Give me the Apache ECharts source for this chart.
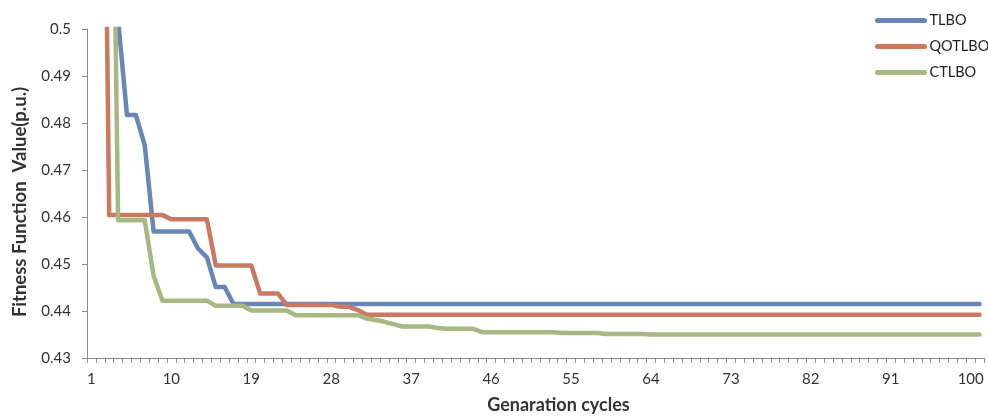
<!DOCTYPE html>
<html>
<head>
<meta charset="utf-8">
<script src="https://cdn.jsdelivr.net/npm/echarts@6/dist/echarts.min.js"></script>
<style>
html,body{margin:0;padding:0;background:#fff;}
#chart{width:988px;height:420px;}
</style>
</head>
<body>
<div id="chart"></div>
<script>
// Generation cycles 1..101
var generations = [];
for (var g = 1; g <= 101; g++) generations.push(String(g));

var seriesNames = ['TLBO', 'QOTLBO', 'CTLBO'];
var xTitle = 'Genaration cycles';
var yTitle = 'Fitness Function  Value(p.u.)';

var tlbo = [
  0.62, 0.58, 0.53, 0.502, 0.4817, 0.4817, 0.4753, 0.4569, 0.4569, 0.4569,
  0.4569, 0.4569, 0.4533, 0.4514, 0.4451, 0.4451, 0.4415, 0.4415, 0.4415, 0.4415,
  0.4415, 0.4415, 0.4415, 0.4415, 0.4415, 0.4415, 0.4415, 0.4415, 0.4415, 0.4415,
  0.4415, 0.4415, 0.4415, 0.4415, 0.4415, 0.4415, 0.4415, 0.4415, 0.4415, 0.4415,
  0.4415, 0.4415, 0.4415, 0.4415, 0.4415, 0.4415, 0.4415, 0.4415, 0.4415, 0.4415,
  0.4415, 0.4415, 0.4415, 0.4415, 0.4415, 0.4415, 0.4415, 0.4415, 0.4415, 0.4415,
  0.4415, 0.4415, 0.4415, 0.4415, 0.4415, 0.4415, 0.4415, 0.4415, 0.4415, 0.4415,
  0.4415, 0.4415, 0.4415, 0.4415, 0.4415, 0.4415, 0.4415, 0.4415, 0.4415, 0.4415,
  0.4415, 0.4415, 0.4415, 0.4415, 0.4415, 0.4415, 0.4415, 0.4415, 0.4415, 0.4415,
  0.4415, 0.4415, 0.4415, 0.4415, 0.4415, 0.4415, 0.4415, 0.4415, 0.4415, 0.4415,
  0.4415
];

var qotlbo = [
  0.65, 0.62, 0.4604, 0.4604, 0.4604, 0.4604, 0.4604, 0.4604, 0.4604, 0.4595,
  0.4595, 0.4595, 0.4595, 0.4595, 0.4497, 0.4497, 0.4497, 0.4497, 0.4497, 0.4437,
  0.4437, 0.4437, 0.4413, 0.4413, 0.4413, 0.4413, 0.4413, 0.4413, 0.4409, 0.4409,
  0.4402, 0.4392, 0.4392, 0.4392, 0.4392, 0.4392, 0.4392, 0.4392, 0.4392, 0.4392,
  0.4392, 0.4392, 0.4392, 0.4392, 0.4392, 0.4392, 0.4392, 0.4392, 0.4392, 0.4392,
  0.4392, 0.4392, 0.4392, 0.4392, 0.4392, 0.4392, 0.4392, 0.4392, 0.4392, 0.4392,
  0.4392, 0.4392, 0.4392, 0.4392, 0.4392, 0.4392, 0.4392, 0.4392, 0.4392, 0.4392,
  0.4392, 0.4392, 0.4392, 0.4392, 0.4392, 0.4392, 0.4392, 0.4392, 0.4392, 0.4392,
  0.4392, 0.4392, 0.4392, 0.4392, 0.4392, 0.4392, 0.4392, 0.4392, 0.4392, 0.4392,
  0.4392, 0.4392, 0.4392, 0.4392, 0.4392, 0.4392, 0.4392, 0.4392, 0.4392, 0.4392,
  0.4392
];

var ctlbo = [
  0.70, 0.65, 0.60, 0.4593, 0.4593, 0.4593, 0.4593, 0.4475, 0.4422, 0.4422,
  0.4422, 0.4422, 0.4422, 0.4422, 0.4411, 0.4411, 0.4411, 0.4411, 0.4401, 0.4401,
  0.4401, 0.4401, 0.4401, 0.4391, 0.4391, 0.4391, 0.4391, 0.4391, 0.4391, 0.4391,
  0.4391, 0.4384, 0.4381, 0.4377, 0.4372, 0.4367, 0.4367, 0.4367, 0.4367, 0.4364,
  0.4362, 0.4362, 0.4362, 0.4362, 0.4355, 0.4355, 0.4355, 0.4355, 0.4355, 0.4355,
  0.4355, 0.4355, 0.4355, 0.4353, 0.4353, 0.4353, 0.4353, 0.4353, 0.4351, 0.4351,
  0.4351, 0.4351, 0.4351, 0.4350, 0.4350, 0.4350, 0.4350, 0.4350, 0.4350, 0.4350,
  0.4350, 0.4350, 0.4350, 0.4350, 0.4350, 0.4350, 0.4350, 0.4350, 0.4350, 0.4350,
  0.4350, 0.4350, 0.4350, 0.4350, 0.4350, 0.4350, 0.4350, 0.4350, 0.4350, 0.4350,
  0.4350, 0.4350, 0.4350, 0.4350, 0.4350, 0.4350, 0.4350, 0.4350, 0.4350, 0.4350,
  0.4350
];

var colors = ['#6886B8', '#C97A60', '#A7B882'];
var FONT = 'Lato, "Open Sans", sans-serif';

var chart = echarts.init(document.getElementById('chart'), null, {renderer: 'canvas'});

function mkSeries(name, data, idx) {
  return {
    name: name,
    type: 'line',
    data: data,
    symbol: 'none',
    smooth: false,
    clip: true,
    lineStyle: {width: 4.5, color: colors[idx], cap: 'round', join: 'round'},
    itemStyle: {color: colors[idx]},
    emphasis: {disabled: true}
  };
}

chart.setOption({
  animation: false,
  backgroundColor: '#ffffff',
  textStyle: {fontFamily: FONT},
  grid: {left: 87, right: 4, top: 29, bottom: 62, containLabel: false},
  legend: {
    orient: 'vertical',
    left: 875,
    top: 13,
    padding: 0,
    itemWidth: 47,
    itemHeight: 14,
    itemGap: 11,
    itemStyle: {opacity: 0},
    lineStyle: {width: 5, cap: 'round'},
    textStyle: {fontFamily: FONT, fontSize: 14.5, color: '#222'},
    data: seriesNames
  },
  graphic: [{
    type: 'text',
    x: 20,
    y: 202,
    rotation: Math.PI / 2,
    silent: true,
    style: {
      text: yTitle,
      fontFamily: FONT,
      fontSize: 18.5,
      fontWeight: 'bold',
      fill: '#333',
      align: 'center',
      verticalAlign: 'middle'
    }
  }],
  xAxis: {
    type: 'category',
    data: generations,
    boundaryGap: true,
    name: xTitle,
    nameLocation: 'middle',
    nameGap: 38,
    nameTextStyle: {fontFamily: FONT, fontSize: 18, fontWeight: 'bold', color: '#333', padding: [0, 0, 0, 46]},
    axisLine: {lineStyle: {color: '#8c8c8c', width: 1}},
    axisTick: {show: true, interval: 0, length: 5, lineStyle: {color: '#8c8c8c'}},
    axisLabel: {interval: 8, margin: 14, fontFamily: FONT, fontSize: 15, color: '#333'},
    splitLine: {show: false}
  },
  yAxis: {
    type: 'value',
    min: 0.43,
    max: 0.5,
    interval: 0.01,
    axisLine: {show: true, lineStyle: {color: '#8c8c8c', width: 1}},
    axisTick: {show: true, length: 5, lineStyle: {color: '#8c8c8c'}},
    axisLabel: {margin: 16, fontFamily: FONT, fontSize: 15, color: '#333',
      formatter: function (v) { return String(parseFloat(v.toFixed(2))); }},
    splitLine: {show: false}
  },
  series: [
    mkSeries(seriesNames[0], tlbo, 0),
    mkSeries(seriesNames[1], qotlbo, 1),
    mkSeries(seriesNames[2], ctlbo, 2)
  ]
});
</script>
</body>
</html>
